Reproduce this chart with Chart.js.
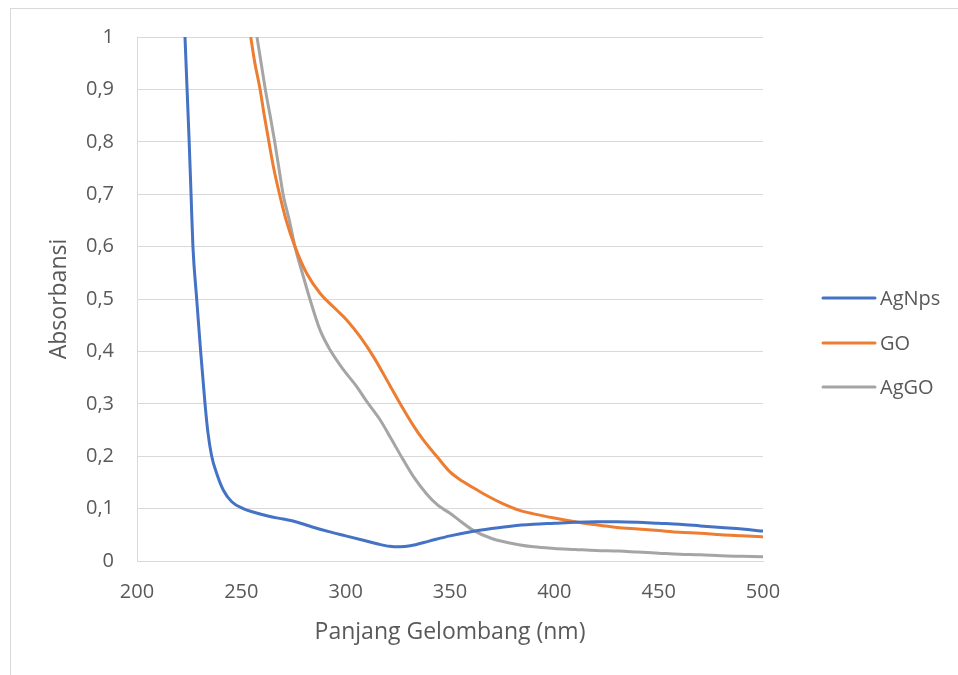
<!DOCTYPE html>
<html>
<head>
<meta charset="utf-8">
<script src="https://cdn.jsdelivr.net/npm/chart.js@4"></script>
<style>
	html, body { margin: 0; padding: 0; background: #fff; overflow: hidden; }
	#wrap { position: relative; width: 958px; height: 675px; }
	#frame { position: absolute; left: 10px; top: 8px; width: 1000px; height: 700px; border: 1px solid #d9d9d9; }
	#chart { position: absolute; left: 0; top: 0; }
</style>
</head>
<body>
<div id="wrap">
	<div id="frame"></div>
	<canvas id="chart" width="958" height="675"></canvas>
</div>
<script>
// wavelength (nm) / absorbance
let agnpsX = [223, 224, 225, 225.9, 226.8, 228.6, 230.5, 232.6, 234, 235.8, 238.2, 241.4, 245.4, 250.9, 256, 263.7, 270, 276, 284, 292, 300, 308, 315, 321, 326, 331, 340, 350, 360, 370, 380, 390, 400, 410, 420, 430, 440, 450, 460, 470, 480, 490, 500];
let agnpsY = [1.0, 0.9, 0.8, 0.7, 0.6, 0.5, 0.4, 0.3, 0.245, 0.2, 0.167, 0.135, 0.113, 0.1, 0.093, 0.085, 0.08, 0.075, 0.065, 0.056, 0.048, 0.04, 0.033, 0.028, 0.027, 0.029, 0.038, 0.048, 0.056, 0.062, 0.067, 0.07, 0.072, 0.074, 0.075, 0.075, 0.074, 0.072, 0.07, 0.067, 0.064, 0.061, 0.057];

let goX = [254.5, 256.5, 259, 261, 263.2, 265.5, 268.3, 271.5, 275.7, 281.3, 287.7, 295.7, 300.5, 306.9, 313.3, 321.2, 327.6, 333, 337.2, 344, 350, 356, 362, 368, 375, 383, 390, 400, 410, 420, 430, 440, 450, 460, 470, 480, 490, 500];
let goY = [1.0, 0.95, 0.9, 0.85, 0.8, 0.75, 0.7, 0.65, 0.6, 0.549, 0.511, 0.479, 0.46, 0.428, 0.39, 0.335, 0.29, 0.255, 0.231, 0.198, 0.17, 0.152, 0.138, 0.124, 0.11, 0.097, 0.09, 0.082, 0.075, 0.069, 0.064, 0.061, 0.058, 0.055, 0.053, 0.05, 0.048, 0.046];

let aggoX = [257.5, 259.5, 261.5, 263.8, 266, 268, 270, 273, 275.7, 279.7, 283, 287.7, 292.5, 298.9, 305.3, 310, 316.4, 322, 327.6, 333, 338.8, 344, 350, 355, 361, 370, 383, 390, 400, 410, 420, 431, 440, 450, 460, 470, 480, 490, 500];
let aggoY = [1.0, 0.95, 0.9, 0.85, 0.8, 0.75, 0.7, 0.65, 0.6, 0.543, 0.498, 0.441, 0.403, 0.365, 0.333, 0.305, 0.27, 0.232, 0.193, 0.158, 0.128, 0.107, 0.091, 0.076, 0.059, 0.043, 0.031, 0.027, 0.024, 0.022, 0.02, 0.019, 0.017, 0.015, 0.013, 0.012, 0.01, 0.009, 0.008];

let seriesNames = ["AgNps", "GO", "AgGO"];
let seriesColors = ["#4472C4", "#ED7D31", "#A5A5A5"];

let xTicks = [200, 250, 300, 350, 400, 450, 500];

let textColor = "#595959";
let gridColor = "#d9d9d9";
let fontFam = "'Open Sans', 'Liberation Sans', sans-serif";

function toPoints(xs, ys) {
	return xs.map(function (x, i) { return { x: x, y: ys[i] }; });
}

let seriesData = [toPoints(agnpsX, agnpsY), toPoints(goX, goY), toPoints(aggoX, aggoY)];

// legend drawn at the right, like the Excel one
let sideLegend = {
	id: "sideLegend",
	afterDraw: function (chart) {
		let ctx = chart.ctx;
		let rows = [298, 343, 387];
		ctx.save();
		chart.data.datasets.forEach(function (ds, i) {
			ctx.strokeStyle = ds.borderColor;
			ctx.lineWidth = 3;
			ctx.lineCap = "round";
			ctx.beginPath();
			ctx.moveTo(823, rows[i]);
			ctx.lineTo(875, rows[i]);
			ctx.stroke();
			ctx.fillStyle = textColor;
			ctx.font = "20px " + fontFam;
			ctx.textBaseline = "middle";
			ctx.textAlign = "left";
			ctx.fillText(ds.label, 880, rows[i] + 1);
		});
		ctx.restore();
	}
};

let chart = new Chart(document.getElementById("chart"), {
	type: "line",
	data: {
		datasets: seriesData.map(function (d, i) {
			return {
				label: seriesNames[i],
				data: d,
				borderColor: seriesColors[i],
				backgroundColor: seriesColors[i],
				borderWidth: 3,
				pointRadius: 0,
				fill: false,
				cubicInterpolationMode: "monotone"
			};
		})
	},
	options: {
		responsive: false,
		animation: false,
		layout: { padding: { top: 37, right: 195, bottom: 0, left: 0 } },
		plugins: {
			legend: { display: false },
			tooltip: { enabled: false }
		},
		scales: {
			x: {
				type: "linear",
				min: 200,
				max: 500,
				afterBuildTicks: function (axis) {
					axis.ticks = xTicks.map(function (v) { return { value: v }; });
				},
				afterFit: function (axis) { axis.height = 114; },
				grid: { display: false, drawTicks: false },
				border: { display: true, color: gridColor, width: 1 },
				ticks: {
					padding: 19,
					color: textColor,
					font: { family: fontFam, size: 20 }
				},
				title: {
					display: true,
					text: "Panjang Gelombang (nm)",
					color: textColor,
					font: { family: fontFam, size: 23 },
					padding: { top: 0, bottom: 29 }
				}
			},
			y: {
				min: 0,
				max: 1,
				afterFit: function (axis) { axis.width = 137; },
				grid: { color: gridColor, lineWidth: 1, drawTicks: false },
				border: { display: true, color: gridColor, width: 1 },
				ticks: {
					stepSize: 0.1,
					padding: 23,
					color: textColor,
					font: { family: fontFam, size: 20 },
					callback: function (v) {
						return String(Number(v.toFixed(1))).replace(".", ",");
					}
				},
				title: {
					display: true,
					text: "Absorbansi",
					color: textColor,
					font: { family: fontFam, size: 23 },
					padding: { top: 46, bottom: 0 }
				}
			}
		}
	},
	plugins: [sideLegend]
});
</script>
</body>
</html>
